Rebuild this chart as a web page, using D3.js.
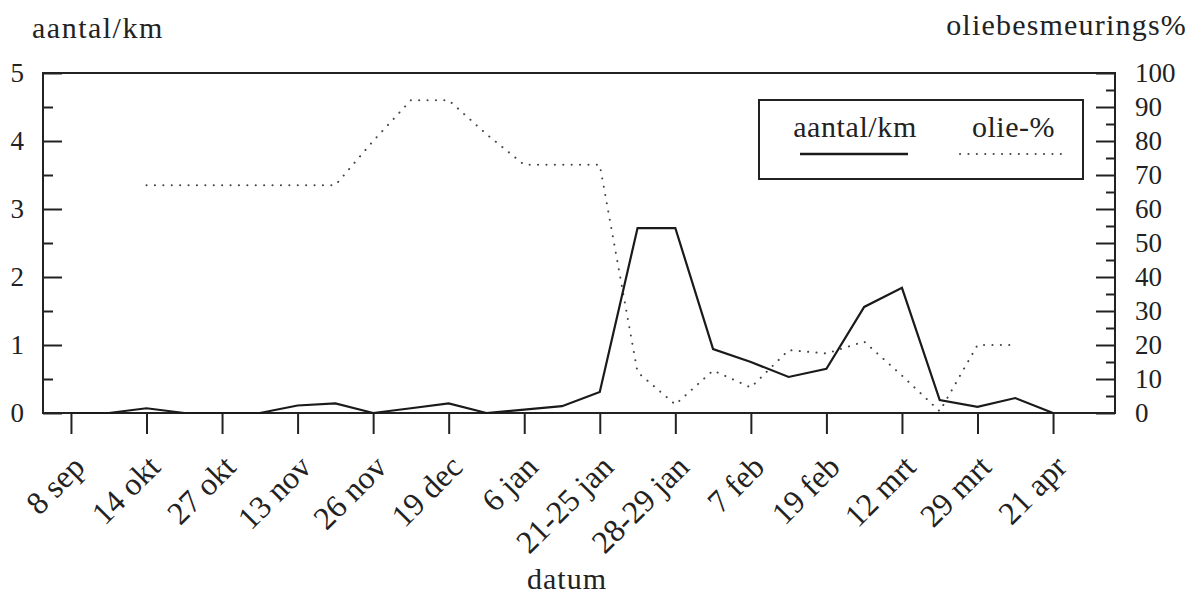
<!DOCTYPE html>
<html>
<head>
<meta charset="utf-8">
<script src="https://cdn.jsdelivr.net/npm/d3@7"></script>
<style>
  body { margin: 0; background: #fff; }
  svg text { font-family: "Liberation Serif", "Times New Roman", serif; fill: #222; }
</style>
</head>
<body>
<div id="chart"></div>
<script>
// tick labels on the x axis (sampling dates)
var dateLabels = ["8 sep", "14 okt", "27 okt", "13 nov", "26 nov", "19 dec", "6 jan",
    "21-25 jan", "28-29 jan", "7 feb", "19 feb", "12 mrt", "29 mrt", "21 apr"];

// samples lie on the ticks and halfway between them
var samplePos = [0, 0.5, 1, 1.5, 2, 2.5, 3, 3.5, 4, 4.5, 5, 5.5, 6, 6.5, 7, 7.5,
    8, 8.5, 9, 9.5, 10, 10.5, 11, 11.5, 12, 12.5, 13];

// aantal/km (left axis)
var aantal = [0, 0, 0.07, 0, 0, 0, 0.11, 0.14, 0, 0.07, 0.14, 0, 0.05, 0.1, 0.31, 2.72,
    2.72, 0.94, 0.75, 0.53, 0.65, 1.56, 1.84, 0.19, 0.09, 0.22, 0];

// olie-% (right axis), null where not measured
var olie = [null, null, 67, 67, 67, 67, 67, 67, 80, 92, 92, 82, 73, 73, 73, 12,
    2.5, 12.5, 7.5, 18.5, 17.5, 21, 11, 0.5, 20, 20, null];

var leftTicks = [0, 1, 2, 3, 4, 5];
var leftMinor = [0.5, 1.5, 2.5, 3.5, 4.5];
var rightTicks = [0, 10, 20, 30, 40, 50, 60, 70, 80, 90, 100];
var rightMinor = [5, 15, 25, 35, 45, 55, 65, 75, 85, 95];

var width = 1198, height = 598;
var plotL = 43, plotR = 1115, plotT = 73, plotB = 413;

var svg = d3.select("#chart").append("svg")
    .attr("width", width)
    .attr("height", height);

var x = d3.scaleLinear().domain([-0.37, 13.82]).range([plotL, plotR]);
var yL = d3.scaleLinear().domain([0, 5]).range([plotB, plotT]);
var yR = d3.scaleLinear().domain([0, 100]).range([plotB, plotT]);

function styleAxis(g) {
    g.select(".domain").remove();
    g.selectAll(".tick line").attr("stroke", "#222").attr("stroke-width", 2);
    g.selectAll("text").style("font-size", "27px").attr("fill", "#222");
}

// left axis
svg.append("g")
    .attr("transform", "translate(" + plotL + ",0)")
    .call(d3.axisLeft(yL).tickValues(leftTicks).tickSize(-19).tickPadding(19).tickFormat(d3.format("d")))
    .call(styleAxis);
svg.append("g")
    .attr("transform", "translate(" + plotL + ",0)")
    .call(d3.axisLeft(yL).tickValues(leftMinor).tickSize(-10).tickFormat(""))
    .call(styleAxis);

// right axis
svg.append("g")
    .attr("transform", "translate(" + plotR + ",0)")
    .call(d3.axisRight(yR).tickValues(rightTicks).tickSize(-19).tickPadding(20).tickFormat(d3.format("d")))
    .call(styleAxis);
svg.append("g")
    .attr("transform", "translate(" + plotR + ",0)")
    .call(d3.axisRight(yR).tickValues(rightMinor).tickSize(-9).tickFormat(""))
    .call(styleAxis);

// bottom axis, rotated labels
var xAxis = svg.append("g")
    .attr("transform", "translate(0," + plotB + ")")
    .call(d3.axisBottom(x).tickValues(d3.range(dateLabels.length)).tickSize(21)
        .tickFormat(function (d) { return dateLabels[d]; }))
    .call(styleAxis);
xAxis.selectAll("text")
    .attr("y", null)
    .attr("dy", null)
    .attr("text-anchor", "end")
    .attr("transform", "translate(15,56) rotate(-45)")
    .style("font-size", "32px");

// frame
svg.append("rect")
    .attr("x", plotL).attr("y", plotT)
    .attr("width", plotR - plotL).attr("height", plotB - plotT)
    .attr("fill", "none")
    .attr("stroke", "#222")
    .attr("stroke-width", 2);

var rows = samplePos.map(function (p, i) { return { p: p, a: aantal[i], o: olie[i] }; });

var olieLine = d3.line()
    .defined(function (d) { return d.o !== null; })
    .x(function (d) { return x(d.p); })
    .y(function (d) { return yR(d.o); });

var aantalLine = d3.line()
    .x(function (d) { return x(d.p); })
    .y(function (d) { return yL(d.a); });

svg.append("path")
    .datum(rows)
    .attr("d", olieLine)
    .attr("fill", "none")
    .attr("stroke", "#444")
    .attr("stroke-width", 2)
    .attr("stroke-linecap", "round")
    .attr("stroke-dasharray", "0.1,8.3");

svg.append("path")
    .datum(rows)
    .attr("d", aantalLine)
    .attr("fill", "none")
    .attr("stroke", "#1a1a1a")
    .attr("stroke-width", 2.2)
    .attr("stroke-linejoin", "miter");

// legend
var lg = svg.append("g");
lg.append("rect")
    .attr("x", 759).attr("y", 100)
    .attr("width", 324).attr("height", 79)
    .attr("fill", "#fff")
    .attr("stroke", "#222")
    .attr("stroke-width", 2);
lg.append("text")
    .attr("x", 855).attr("y", 137)
    .attr("text-anchor", "middle")
    .style("font-size", "30px")
    .style("letter-spacing", "0.6px")
    .text("aantal/km");
lg.append("line")
    .attr("x1", 800).attr("x2", 908)
    .attr("y1", 154).attr("y2", 154)
    .attr("stroke", "#1a1a1a")
    .attr("stroke-width", 2.4);
lg.append("text")
    .attr("x", 972).attr("y", 137)
    .style("font-size", "30px")
    .style("letter-spacing", "0.5px")
    .text("olie-%");
lg.append("line")
    .attr("x1", 960).attr("x2", 1062)
    .attr("y1", 154).attr("y2", 154)
    .attr("stroke", "#444")
    .attr("stroke-width", 2)
    .attr("stroke-linecap", "round")
    .attr("stroke-dasharray", "0.1,8.3");

// axis titles
svg.append("text")
    .attr("x", 32).attr("y", 38)
    .style("font-size", "30px")
    .style("letter-spacing", "1.5px")
    .text("aantal/km");
svg.append("text")
    .attr("x", 1187).attr("y", 35)
    .attr("text-anchor", "end")
    .style("font-size", "30px")
    .style("letter-spacing", "1.2px")
    .text("oliebesmeurings%");
svg.append("text")
    .attr("x", 567).attr("y", 589)
    .attr("text-anchor", "middle")
    .style("font-size", "30px")
    .style("letter-spacing", "1px")
    .text("datum");
</script>
</body>
</html>
